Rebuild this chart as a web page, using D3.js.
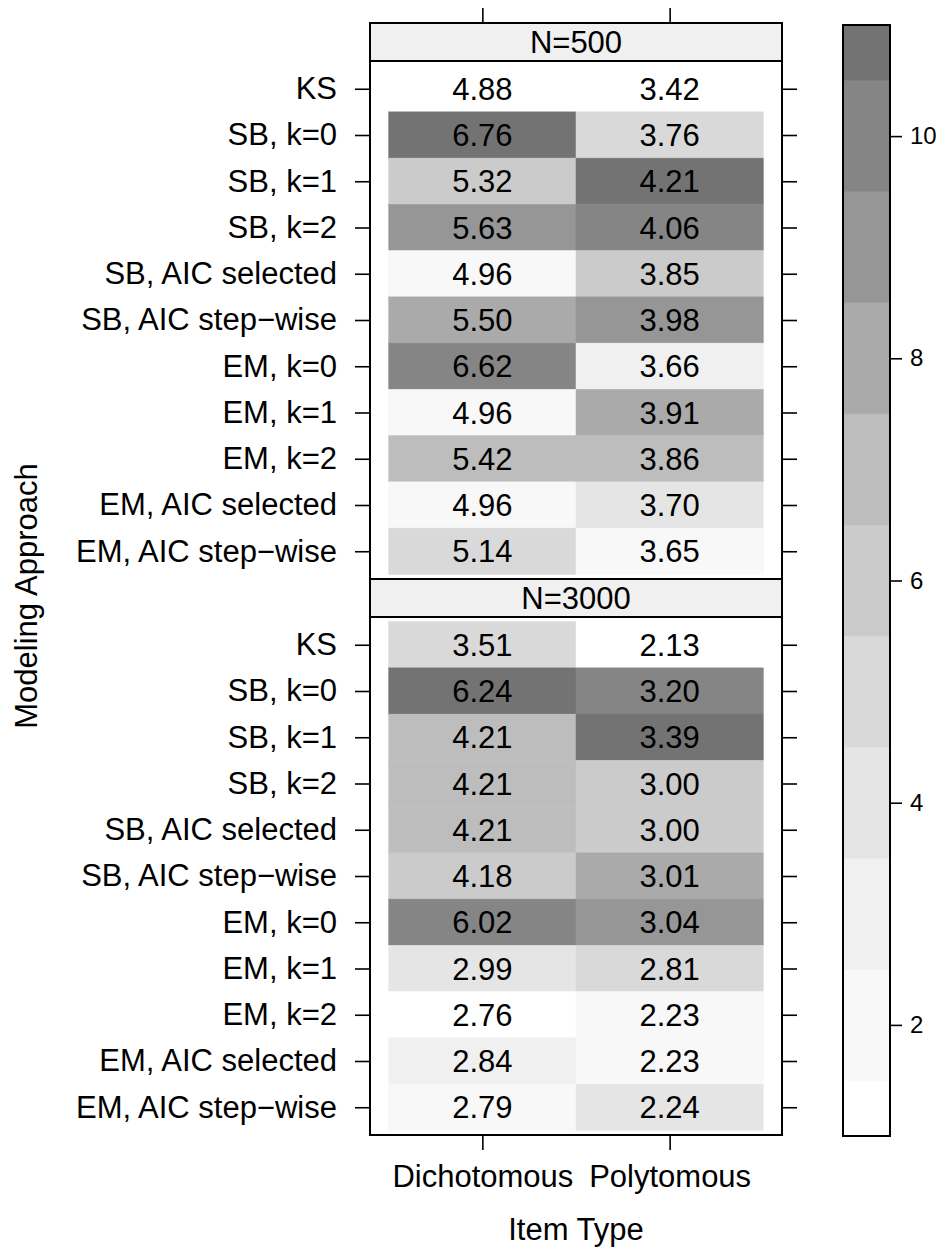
<!DOCTYPE html>
<html>
<head>
<meta charset="utf-8">
<script src="https://cdn.jsdelivr.net/npm/d3@7"></script>
<style>
  body { margin: 0; background: #fff; }
  text { font-family: "Liberation Sans", Arial, Helvetica, sans-serif; fill: #000; }
</style>
</head>
<body>
<svg id="chart" width="945" height="1249"></svg>
<script>
var approaches = [
  'KS', 'SB, k=0', 'SB, k=1', 'SB, k=2', 'SB, AIC selected', 'SB, AIC step\u2212wise',
  'EM, k=0', 'EM, k=1', 'EM, k=2', 'EM, AIC selected', 'EM, AIC step\u2212wise'
];
var itemTypes = ['Dichotomous', 'Polytomous'];
var sampleSizes = ['N=500', 'N=3000'];

// one array per panel and item type, rows in the order of approaches
var n500Dich  = [4.88, 6.76, 5.32, 5.63, 4.96, 5.50, 6.62, 4.96, 5.42, 4.96, 5.14];
var n500Poly  = [3.42, 3.76, 4.21, 4.06, 3.85, 3.98, 3.66, 3.91, 3.86, 3.70, 3.65];
var n3000Dich = [3.51, 6.24, 4.21, 4.21, 4.21, 4.18, 6.02, 2.99, 2.76, 2.84, 2.79];
var n3000Poly = [2.13, 3.20, 3.39, 3.00, 3.00, 3.01, 3.04, 2.81, 2.23, 2.23, 2.24];

var keyTicks = [2, 4, 6, 8, 10];
var greys = ['#FFFFFF', '#F0F0F0', '#D9D9D9', '#BDBDBD', '#969696', '#737373'];

var panels = [
  {label: sampleSizes[0], cols: [n500Dich, n500Poly]},
  {label: sampleSizes[1], cols: [n3000Dich, n3000Poly]}
];

// fill is the rank within a column (ties take the lowest rank)
function ranks(vals) {
  return vals.map(function(v) {
    return 1 + vals.filter(function(o) { return o < v; }).length;
  });
}

var svg = d3.select('#chart');
var left = 370, right = 782, stripH = 38, bodyH = 518, top0 = 23;
var nRow = approaches.length;
var fs = 31;

var x = d3.scaleLinear().domain([0.4, 2.6]).range([left, right]);
var fill = d3.scaleLinear().domain([1, 3, 5, 7, 9, 11]).range(greys);

panels.forEach(function(p, pi) {
  var stripTop = top0 + pi * (stripH + bodyH);
  var bodyTop = stripTop + stripH, bodyBot = bodyTop + bodyH;
  var y = d3.scaleLinear().domain([0.4, nRow + 0.6]).range([bodyBot, bodyTop]);
  var g = svg.append('g');

  var cells = [];
  p.cols.forEach(function(vals, ci) {
    var rk = ranks(vals);
    vals.forEach(function(v, ri) {
      cells.push({col: ci + 1, row: nRow - ri, value: v, rank: rk[ri]});
    });
  });

  g.selectAll('rect.cell').data(cells).enter()
    .append('rect').attr('class', 'cell')
    .attr('x', function(d) { return x(d.col - 0.5); })
    .attr('y', function(d) { return y(d.row + 0.5); })
    .attr('width', x(1.5) - x(0.5))
    .attr('height', y(0.5) - y(1.5))
    .attr('fill', function(d) { return fill(d.rank); })
    .attr('stroke', function(d) { return fill(d.rank); })
    .attr('stroke-width', 0.5);

  g.selectAll('text.val').data(cells).enter()
    .append('text').attr('class', 'val')
    .attr('x', function(d) { return x(d.col); })
    .attr('y', function(d) { return y(d.row); })
    .attr('dy', '0.36em')
    .attr('text-anchor', 'middle')
    .attr('font-size', fs)
    .text(function(d) { return d.value.toFixed(2); });

  // strip
  g.append('rect')
    .attr('x', left).attr('y', stripTop)
    .attr('width', right - left).attr('height', stripH)
    .attr('fill', '#F0F0F0').attr('stroke', '#000').attr('stroke-width', 2);
  g.append('text')
    .attr('x', (left + right) / 2).attr('y', stripTop + stripH / 2)
    .attr('dy', '0.36em').attr('text-anchor', 'middle')
    .attr('font-size', fs).text(p.label);

  // panel box
  g.append('rect')
    .attr('x', left).attr('y', bodyTop)
    .attr('width', right - left).attr('height', bodyH)
    .attr('fill', 'none').attr('stroke', '#000').attr('stroke-width', 2);

  var rowVals = d3.range(1, nRow + 1);
  var yAxis = d3.axisLeft(y).tickValues(rowVals)
    .tickFormat(function(v) { return approaches[nRow - v]; })
    .tickSize(15).tickPadding(18);
  var ga = g.append('g').attr('transform', 'translate(' + left + ',0)').call(yAxis);
  ga.select('.domain').remove();
  ga.selectAll('text').attr('font-size', fs).attr('font-family', null);

  var yRight = d3.axisRight(y).tickValues(rowVals).tickFormat('').tickSize(15);
  var gr = g.append('g').attr('transform', 'translate(' + right + ',0)').call(yRight);
  gr.select('.domain').remove();

  [ga, gr].forEach(function(a) {
    a.selectAll('line').attr('stroke-width', 1.6);
  });
});

// top ticks over the first strip, bottom ticks and labels under the last panel
var topAxis = d3.axisTop(x).tickValues([1, 2]).tickFormat('').tickSize(15);
var gt = svg.append('g').attr('transform', 'translate(0,' + top0 + ')').call(topAxis);
gt.select('.domain').remove();
gt.selectAll('line').attr('stroke-width', 1.6);

var bottomY = top0 + 2 * (stripH + bodyH);
var botAxis = d3.axisBottom(x).tickValues([1, 2])
  .tickFormat(function(v) { return itemTypes[v - 1]; })
  .tickSize(15).tickPadding(15);
var gb = svg.append('g').attr('transform', 'translate(0,' + bottomY + ')').call(botAxis);
gb.select('.domain').remove();
gb.selectAll('line').attr('stroke-width', 1.6);
gb.selectAll('text').attr('font-size', fs).attr('font-family', null);

svg.append('text')
  .attr('x', (left + right) / 2).attr('y', 1240)
  .attr('text-anchor', 'middle').attr('font-size', fs)
  .text('Item Type');

svg.append('text')
  .attr('transform', 'translate(37,596) rotate(-90)')
  .attr('text-anchor', 'middle').attr('font-size', fs)
  .text('Modeling Approach');

// colour key
var keyX = 843, keyW = 47;
var ky = d3.scaleLinear().domain([1, 11]).range([1136, 25]);
var bands = d3.range(1, 12).map(function(k) {
  return {lo: Math.max(1, k - 0.5), hi: Math.min(11, k + 0.5), k: k};
});
var gk = svg.append('g');
gk.selectAll('rect.band').data(bands).enter()
  .append('rect').attr('class', 'band')
  .attr('x', keyX).attr('width', keyW)
  .attr('y', function(d) { return ky(d.hi); })
  .attr('height', function(d) { return ky(d.lo) - ky(d.hi); })
  .attr('fill', function(d) { return fill(d.k); })
  .attr('stroke', function(d) { return fill(d.k); })
  .attr('stroke-width', 0.5);
gk.append('rect')
  .attr('x', keyX).attr('y', ky(11))
  .attr('width', keyW).attr('height', ky(1) - ky(11))
  .attr('fill', 'none').attr('stroke', '#000').attr('stroke-width', 2);
var keyAxis = d3.axisRight(ky).tickValues(keyTicks).tickSize(12).tickPadding(8);
var gka = gk.append('g').attr('transform', 'translate(' + (keyX + keyW) + ',0)').call(keyAxis);
gka.select('.domain').remove();
gka.selectAll('line').attr('stroke-width', 1.6);
gka.selectAll('text').attr('font-size', 24).attr('font-family', null);
</script>
</body>
</html>
